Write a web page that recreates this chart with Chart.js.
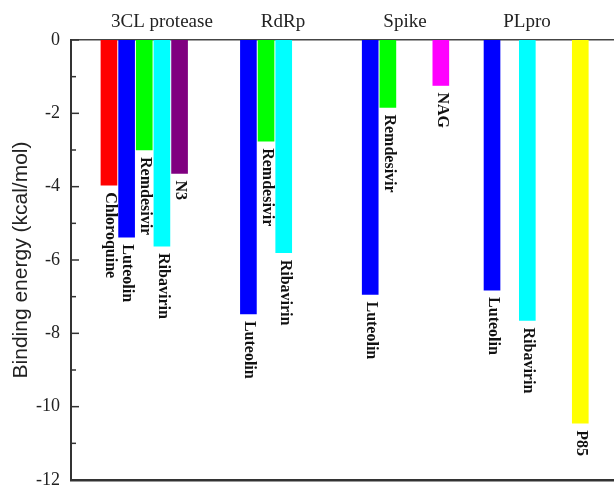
<!DOCTYPE html>
<html>
<head>
<meta charset="utf-8">
<script src="https://cdn.jsdelivr.net/npm/chart.js@4"></script>
<style>
  body { margin: 0; background: #fff; }
</style>
</head>
<body>
<canvas id="chart" width="614" height="489"></canvas>
<script>
// drug names under each bar
var drugs = ['Chloroquine', 'Luteolin', 'Remdesivir', 'Ribavirin', 'N3',
             'Luteolin', 'Remdesivir', 'Ribavirin',
             'Luteolin', 'Remdesivir', 'NAG',
             'Luteolin', 'Ribavirin', 'P85'];
// slot position of each bar along x
var slots = [0, 1, 2, 3, 4,
             7.9, 8.9, 9.9,
             14.8, 15.8, 18.8,
             21.7, 23.7, 26.7];
// binding energy (kcal/mol)
var energies = [-3.96, -5.38, -3.0, -5.62, -3.64,
                -7.47, -2.76, -5.8,
                -6.94, -1.84, -1.24,
                -6.82, -7.65, -10.45];
var colors = ['#ff0000', '#0000ff', '#00ff00', '#00ffff', '#800080',
              '#0000ff', '#00ff00', '#00ffff',
              '#0000ff', '#00ff00', '#ff00ff',
              '#0000ff', '#00ffff', '#ffff00'];
// protein targets written above the plot
var targets = ['3CL protease', 'RdRp', 'Spike', 'PLpro'];
var targetPos = [3.0, 9.86, 16.77, 23.68];

var xMin = -2.15, xMax = 28.61;

var points = [];
for (var i = 0; i < slots.length; i++) {
    points.push({ x: slots[i], y: energies[i] });
}

// ticks on the inside of the y axis, long at even values
var innerTicks = {
    id: 'innerTicks',
    afterDraw: function(chart) {
        var ctx = chart.ctx;
        var y = chart.scales.y;
        var left = chart.chartArea.left;
        ctx.save();
        ctx.strokeStyle = '#333';
        ctx.lineWidth = 1.5;
        for (var v = -12; v <= 0; v++) {
            var py = y.getPixelForValue(v);
            var len = (v % 2 === 0) ? 8 : 5;
            ctx.beginPath();
            ctx.moveTo(left, py);
            ctx.lineTo(left + len, py);
            ctx.stroke();
        }
        ctx.restore();
    }
};

// vertical names just below the end of each bar
var barNames = {
    id: 'barNames',
    afterDatasetsDraw: function(chart) {
        var ctx = chart.ctx;
        var meta = chart.getDatasetMeta(0);
        ctx.save();
        ctx.fillStyle = '#111';
        ctx.font = 'bold 16px "Liberation Serif"';
        ctx.textAlign = 'left';
        ctx.textBaseline = 'middle';
        meta.data.forEach(function(bar, i) {
            ctx.save();
            ctx.translate(bar.x + 1, bar.y + 7);
            ctx.rotate(Math.PI / 2);
            ctx.fillText(drugs[i], 0, 0);
            ctx.restore();
        });
        ctx.restore();
    }
};

new Chart(document.getElementById('chart'), {
    type: 'bar',
    data: {
        datasets: [{
            data: points,
            backgroundColor: colors,
            borderWidth: 0,
            barThickness: 16
        }]
    },
    options: {
        responsive: false,
        animation: false,
        layout: { padding: 0 },
        plugins: {
            legend: { display: false },
            tooltip: { enabled: false }
        },
        scales: {
            x: {
                type: 'linear',
                position: 'bottom',
                min: xMin,
                max: xMax,
                offset: false,
                ticks: { display: false },
                grid: { display: false, drawTicks: false },
                border: { display: true, color: '#333', width: 2.5 },
                afterFit: function(scale) {
                    scale.height = 9;
                    scale.paddingLeft = 0;
                    scale.paddingRight = 0;
                }
            },
            xt: {
                type: 'linear',
                position: 'top',
                min: xMin,
                max: xMax,
                offset: false,
                afterBuildTicks: function(scale) {
                    scale.ticks = targetPos.map(function(v) { return { value: v }; });
                },
                ticks: {
                    autoSkip: false,
                    maxRotation: 0,
                    padding: 7,
                    color: '#222',
                    font: { family: '"Liberation Serif"', size: 19 },
                    callback: function(v, i) { return targets[i]; }
                },
                grid: { display: false, drawTicks: false },
                border: { display: true, color: '#444', width: 1.5 },
                afterFit: function(scale) {
                    scale.height = 40;
                    scale.paddingLeft = 0;
                    scale.paddingRight = 0;
                }
            },
            y: {
                min: -12,
                max: 0,
                ticks: {
                    stepSize: 1,
                    padding: 11,
                    color: '#222',
                    font: { family: '"Liberation Serif"', size: 18 },
                    callback: function(v) { return v % 2 === 0 ? String(v) : ''; }
                },
                grid: { display: false, drawTicks: false },
                border: { display: true, color: '#333', width: 2 },
                title: {
                    display: true,
                    text: 'Binding energy (kcal/mol)',
                    color: '#222',
                    padding: { top: 9, bottom: 0 },
                    font: { family: '"Liberation Sans"', size: 21 }
                },
                afterFit: function(scale) {
                    scale.width = 71;
                    scale.paddingTop = 0;
                    scale.paddingBottom = 0;
                }
            }
        }
    },
    plugins: [innerTicks, barNames]
});
</script>
</body>
</html>
